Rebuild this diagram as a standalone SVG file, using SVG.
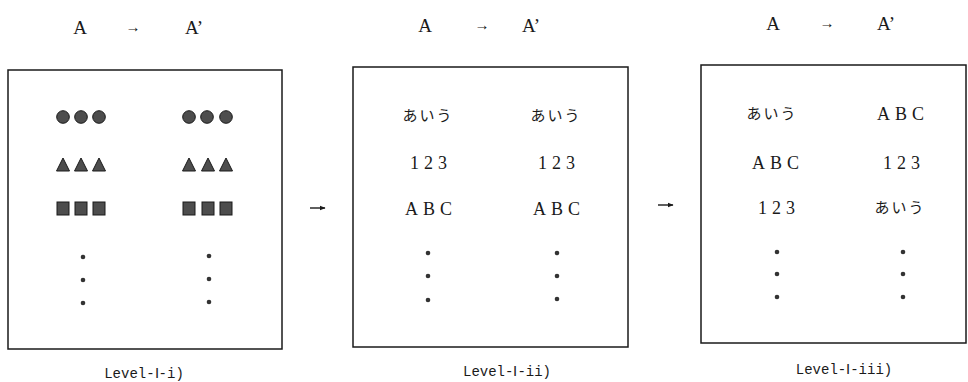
<svg xmlns="http://www.w3.org/2000/svg" width="968" height="382" viewBox="0 0 968 382">
<defs>
<style>
.box{fill:none;stroke:#1a1a1a;stroke-width:1.5}
.t{font-family:"Liberation Serif",serif;font-size:19px;fill:#1a1a1a;text-anchor:middle}
.ar{font-family:"Liberation Serif",serif;font-size:15px;fill:#1a1a1a;text-anchor:middle}
.row{font-family:"Liberation Serif",serif;font-size:18px;fill:#1a1a1a;text-anchor:middle;letter-spacing:5px}
.jp{font-family:"Noto Sans CJK JP",sans-serif;font-size:15px;fill:#1a1a1a;text-anchor:middle;letter-spacing:2px}
.lab{font-family:"Liberation Mono",monospace;font-size:14px;fill:#1a1a1a;text-anchor:middle}
.sh{fill:#4d4d4d;stroke:#1a1a1a;stroke-width:1}
.dot{fill:#333}
.con{stroke:#1a1a1a;stroke-width:1.4;fill:none}
</style>
<marker id="ah" viewBox="0 0 10 10" refX="9" refY="5" markerWidth="6" markerHeight="6" orient="auto" markerUnits="userSpaceOnUse">
<path d="M0,1 L10,5 L0,9 z" fill="#1a1a1a"/>
</marker>
</defs>
<rect width="968" height="382" fill="#fff"/>

<g id="panel1">
<text class="t" x="80" y="34">A</text>
<text class="ar" x="133" y="32">→</text>
<text class="t" x="194" y="34">A’</text>
<rect class="box" x="8" y="70" width="274" height="279"/>
<circle class="sh" cx="63" cy="117" r="6.3"/>
<circle class="sh" cx="81" cy="117" r="6.3"/>
<circle class="sh" cx="99" cy="117" r="6.3"/>
<circle class="sh" cx="189" cy="117" r="6.3"/>
<circle class="sh" cx="207" cy="117" r="6.3"/>
<circle class="sh" cx="226" cy="117" r="6.3"/>
<path class="sh" d="M63,158 L69.5,171 L56.5,171 Z M81,158 L87.5,171 L74.5,171 Z M99,158 L105.5,171 L92.5,171 Z M189,158 L195.5,171 L182.5,171 Z M208,158 L214.5,171 L201.5,171 Z M226,158 L232.5,171 L219.5,171 Z"/>
<rect class="sh" x="57" y="202" width="12" height="13"/>
<rect class="sh" x="75" y="202" width="12" height="13"/>
<rect class="sh" x="93" y="202" width="12" height="13"/>
<rect class="sh" x="183" y="202" width="12" height="13"/>
<rect class="sh" x="202" y="202" width="12" height="13"/>
<rect class="sh" x="220" y="202" width="12" height="13"/>
<circle class="dot" cx="83" cy="257" r="2.3"/>
<circle class="dot" cx="83" cy="280" r="2.3"/>
<circle class="dot" cx="83" cy="303" r="2.3"/>
<circle class="dot" cx="209" cy="256" r="2.3"/>
<circle class="dot" cx="209" cy="279" r="2.3"/>
<circle class="dot" cx="209" cy="302" r="2.3"/>
<text class="lab" x="144" y="378">Level-Ⅰ-i)</text>
</g>

<g id="panel2">
<text class="t" x="425" y="32">A</text>
<text class="ar" x="482" y="30">→</text>
<text class="t" x="531" y="32">A’</text>
<rect class="box" x="353" y="67" width="275" height="280"/>
<text class="jp" x="428" y="121">あいう</text>
<text class="jp" x="556" y="121">あいう</text>
<text class="row" x="431" y="169">123</text>
<text class="row" x="559" y="169">123</text>
<text class="row" x="431" y="215">ABC</text>
<text class="row" x="559" y="215">ABC</text>
<circle class="dot" cx="428" cy="253" r="2.3"/>
<circle class="dot" cx="428" cy="276" r="2.3"/>
<circle class="dot" cx="428" cy="300" r="2.3"/>
<circle class="dot" cx="557" cy="253" r="2.3"/>
<circle class="dot" cx="557" cy="276" r="2.3"/>
<circle class="dot" cx="557" cy="299" r="2.3"/>
<text class="lab" x="507" y="376">Level-Ⅰ-ii)</text>
</g>

<g id="panel3">
<text class="t" x="773" y="30">A</text>
<text class="ar" x="827" y="28">→</text>
<text class="t" x="886" y="30">A’</text>
<rect class="box" x="701" y="65" width="265" height="278"/>
<text class="jp" x="772" y="119">あいう</text>
<text class="row" x="903" y="120">ABC</text>
<text class="row" x="778" y="169">ABC</text>
<text class="row" x="904" y="169">123</text>
<text class="row" x="779" y="214">123</text>
<text class="jp" x="900" y="213">あいう</text>
<circle class="dot" cx="777" cy="252" r="2.3"/>
<circle class="dot" cx="777" cy="274" r="2.3"/>
<circle class="dot" cx="777" cy="297" r="2.3"/>
<circle class="dot" cx="903" cy="252" r="2.3"/>
<circle class="dot" cx="903" cy="274" r="2.3"/>
<circle class="dot" cx="903" cy="297" r="2.3"/>
<text class="lab" x="844" y="374">Level-Ⅰ-iii)</text>
</g>

<g id="connectors">
<line class="con" x1="310" y1="208" x2="325" y2="208" marker-end="url(#ah)"/>
<line class="con" x1="658" y1="205" x2="673" y2="205" marker-end="url(#ah)"/>
</g>
</svg>
